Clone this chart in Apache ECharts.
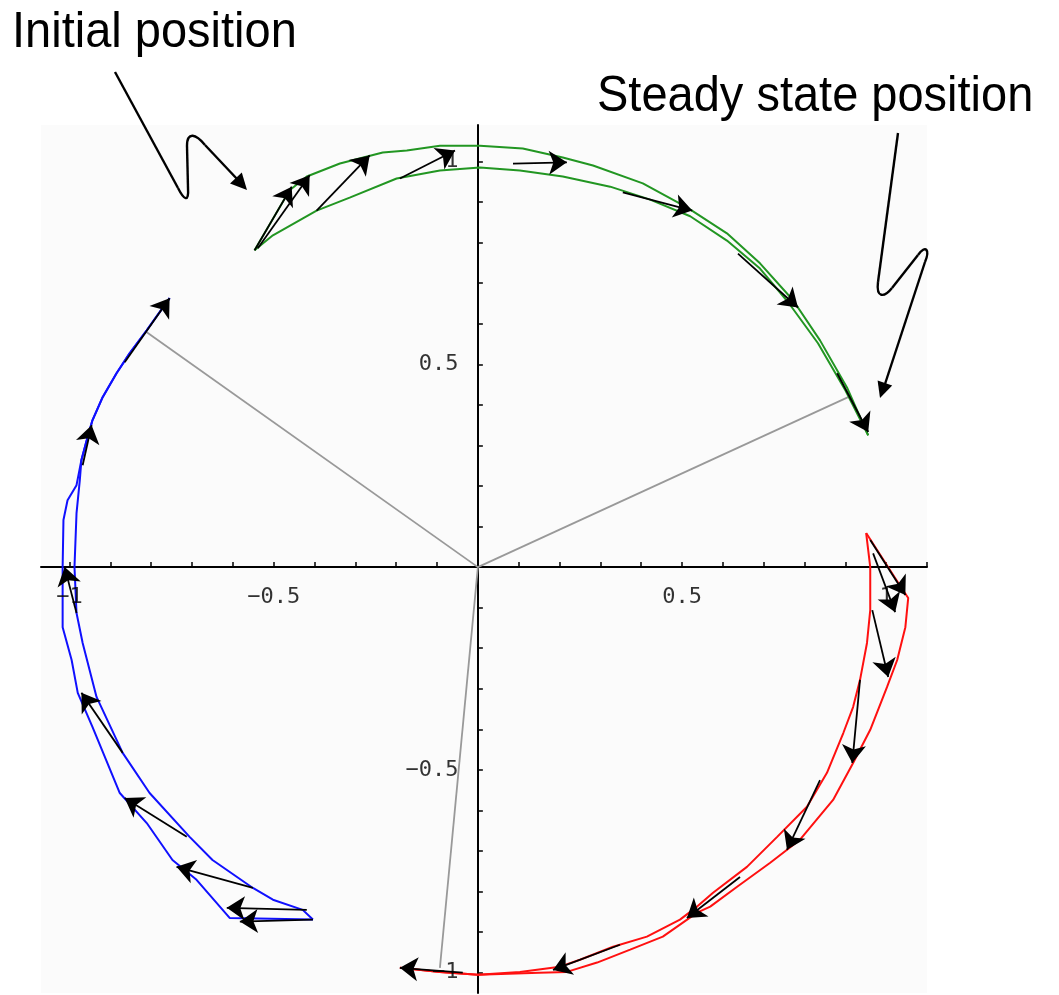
<!DOCTYPE html>
<html>
<head>
<meta charset="utf-8">
<style>
  html, body { margin: 0; padding: 0; background: #ffffff; }
  #chart { width: 1059px; height: 995px; }
</style>
<script src="https://cdn.jsdelivr.net/npm/echarts@6/dist/echarts.min.js"></script>
</head>
<body>
<div id="chart"></div>
<script>
// Trajectories of three unit vectors rotating from their initial to their steady-state angles.
// Each trajectory is drawn as an outer and an inner trace, plus the step vectors between them.

const greenOuter = [
  [-0.547, 0.781], [-0.461, 0.929], [-0.419, 0.963], [-0.338, 0.995], [-0.233, 1.022],
  [-0.174, 1.027], [-0.093, 1.039], [0.005, 1.039], [0.110, 1.032], [0.208, 1.010],
  [0.282, 0.990], [0.404, 0.946], [0.512, 0.887], [0.610, 0.823], [0.691, 0.749],
  [0.772, 0.658], [0.838, 0.559], [0.904, 0.443], [0.956, 0.325]
];
const greenInner = [
  [-0.547, 0.781], [-0.502, 0.818], [-0.395, 0.879], [-0.314, 0.911], [-0.199, 0.958],
  [-0.093, 0.978], [0.005, 0.985], [0.103, 0.978], [0.208, 0.963], [0.324, 0.938],
  [0.422, 0.906], [0.520, 0.865], [0.610, 0.805], [0.691, 0.736], [0.760, 0.653],
  [0.833, 0.552], [0.900, 0.436], [0.956, 0.325]
];

const blueOuter = [
  [-0.755, 0.663], [-0.811, 0.584], [-0.853, 0.527], [-0.885, 0.478], [-0.919, 0.419],
  [-0.944, 0.362], [-0.958, 0.313], [-0.971, 0.264], [-0.983, 0.202], [-1.005, 0.165],
  [-1.015, 0.116], [-1.017, 0.000], [-1.017, -0.148], [-0.995, -0.229], [-0.980, -0.310],
  [-0.944, -0.394], [-0.877, -0.557], [-0.811, -0.631], [-0.748, -0.722], [-0.689, -0.771],
  [-0.608, -0.865], [-0.404, -0.869]
];
const blueInner = [
  [-0.755, 0.663], [-0.811, 0.584], [-0.853, 0.527], [-0.885, 0.478], [-0.919, 0.419],
  [-0.944, 0.362], [-0.958, 0.313], [-0.971, 0.264], [-0.975, 0.214], [-0.983, 0.133],
  [-0.988, 0.000], [-0.983, -0.113], [-0.968, -0.187], [-0.934, -0.320], [-0.870, -0.458],
  [-0.804, -0.557], [-0.706, -0.665], [-0.650, -0.722], [-0.551, -0.791], [-0.502, -0.820],
  [-0.429, -0.845], [-0.404, -0.869]
];

const redOuter = [
  [0.951, 0.084], [1.040, -0.055], [1.054, -0.076], [1.047, -0.148], [1.027, -0.229],
  [1.002, -0.296], [0.961, -0.401], [0.919, -0.483], [0.870, -0.574], [0.789, -0.672],
  [0.716, -0.729], [0.635, -0.788], [0.569, -0.837], [0.537, -0.852], [0.453, -0.911],
  [0.373, -0.943], [0.292, -0.975], [0.218, -0.998], [0.150, -1.000], [0.000, -1.005],
  [-0.093, -0.998], [-0.191, -0.988]
];
const redInner = [
  [0.951, 0.084], [0.961, 0.000], [0.961, -0.106], [0.953, -0.187], [0.936, -0.278],
  [0.919, -0.345], [0.895, -0.409], [0.855, -0.507], [0.806, -0.591], [0.733, -0.665],
  [0.659, -0.739], [0.576, -0.803], [0.537, -0.837], [0.495, -0.869], [0.414, -0.911],
  [0.331, -0.936], [0.250, -0.968], [0.201, -0.985], [0.103, -0.998], [0.000, -1.005],
  [-0.093, -0.998], [-0.191, -0.988]
];

// Step vectors: [fromX, fromY, toX, toY]
const greenSteps = [
  [-0.547, 0.781, -0.456, 0.938],
  [-0.539, 0.786, -0.412, 0.966],
  [-0.395, 0.879, -0.265, 1.015],
  [-0.191, 0.958, -0.056, 1.027],
  [0.086, 0.995, 0.218, 0.998],
  [0.355, 0.924, 0.525, 0.879],
  [0.637, 0.773, 0.784, 0.640],
  [0.880, 0.478, 0.956, 0.333]
];
const blueSteps = [
  [-0.419, -0.845, -0.615, -0.840],
  [-0.404, -0.869, -0.583, -0.874],
  [-0.551, -0.791, -0.738, -0.739],
  [-0.713, -0.665, -0.865, -0.569],
  [-0.870, -0.458, -0.971, -0.310],
  [-0.983, -0.113, -1.012, 0.000],
  [-0.968, 0.251, -0.946, 0.350],
  [-0.865, 0.505, -0.755, 0.663]
];
const redSteps = [
  [0.961, 0.067, 1.047, -0.069],
  [0.968, 0.034, 1.022, -0.111],
  [0.966, -0.106, 1.005, -0.271],
  [0.936, -0.278, 0.917, -0.483],
  [0.838, -0.525, 0.757, -0.697],
  [0.642, -0.764, 0.512, -0.865],
  [0.348, -0.931, 0.184, -0.993],
  [-0.037, -1.000, -0.191, -0.988]
];

// Steady-state vectors, drawn from the origin
const steadyState = [
  [0.907, 0.419],
  [-0.811, 0.579],
  [-0.093, -0.988]
];

const tickLabelValues = [-1, -0.5, 0.5, 1];
const minorTickValues = [-1, -0.9, -0.8, -0.7, -0.6, -0.5, -0.4, -0.3, -0.2, -0.1,
  0.1, 0.2, 0.3, 0.4, 0.5, 0.6, 0.7, 0.8, 0.9, 1, 1.1];

const GREEN = '#229622';
const BLUE = '#1010ff';
const RED = '#ff1010';

const chart = echarts.init(document.getElementById('chart'), null, { renderer: 'canvas' });

function trace(data, color) {
  return {
    type: 'line', data: data, showSymbol: false, symbol: 'none',
    lineStyle: { color: color, width: 2 }, z: 3, silent: true
  };
}
function steps(list) {
  return {
    type: 'lines', coordinateSystem: 'cartesian2d', z: 4, silent: true,
    symbol: ['none', 'arrow'], symbolSize: 18,
    lineStyle: { color: '#000', width: 1.8, opacity: 1, curveness: 0 },
    itemStyle: { color: '#000' },
    data: list.map(s => ({ coords: [[s[0], s[1]], [s[2], s[3]]] }))
  };
}
function fmt(v) {
  return String(v).replace('-', '\u2212');
}

const labelText = { fontFamily: 'DejaVu Sans Mono', fontSize: 22, color: '#000' };

// Tick labels sit next to the axes that cross at the origin
function tickLabels(points, position, distance) {
  return {
    type: 'scatter', z: 5, silent: true,
    symbolSize: 1, itemStyle: { color: 'rgba(0,0,0,0)' },
    label: Object.assign({ show: true, position: position, distance: distance,
      formatter: p => fmt(p.data.v) }, labelText),
    data: points
  };
}

const axisCommon = {
  type: 'value',
  axisLine: { onZero: true, lineStyle: { color: '#000', width: 2 } },
  axisTick: { show: true, inside: true, length: 5, customValues: minorTickValues,
    lineStyle: { color: '#000', width: 1.5 } },
  axisLabel: { show: false },
  splitLine: { show: false }
};

const option = {
  animation: false,
  backgroundColor: '#ffffff',
  grid: {
    left: 41, top: 125, width: 886, height: 868,
    show: true, backgroundColor: '#fbfbfb', borderWidth: 0,
    containLabel: false, outerBoundsMode: 'none'
  },
  xAxis: Object.assign({ min: -1.07, max: 1.1 }, axisCommon),
  yAxis: Object.assign({ min: -1.05, max: 1.09 }, axisCommon),
  series: [
    {
      type: 'lines', coordinateSystem: 'cartesian2d', z: 2, silent: true,
      symbol: ['none', 'none'],
      lineStyle: { color: '#999999', width: 1.8, opacity: 1 },
      data: steadyState.map(p => ({ coords: [[0, 0], p] }))
    },
    trace(greenOuter, GREEN), trace(greenInner, GREEN),
    trace(blueOuter, BLUE), trace(blueInner, BLUE),
    trace(redOuter, RED), trace(redInner, RED),
    steps(greenSteps), steps(blueSteps), steps(redSteps),
    tickLabels(tickLabelValues.map(v => ({ value: [v, 0], v: v })), 'bottom', 19),
    tickLabels(tickLabelValues.map(v => ({ value: [0, v], v: v })), 'left', 19)
  ],
  graphic: [
    {
      type: 'text', x: 12, y: 36, z: 10, scaleY: 1.07, originX: 0, originY: 36,
      style: { text: 'Initial position', font: '47px "Liberation Sans", Arial, sans-serif',
        fill: '#000', verticalAlign: 'middle' }
    },
    {
      type: 'text', x: 597, y: 104, z: 10, scaleY: 1.07, originX: 597, originY: 104,
      style: { text: 'Steady state position', font: '47px "Liberation Sans", Arial, sans-serif',
        fill: '#000', verticalAlign: 'middle' }
    },
    // pointer to the starting point
    { type: 'line', z: 10, shape: { x1: 115, y1: 72, x2: 178, y2: 188 },
      style: { stroke: '#000', lineWidth: 2.4, fill: null } },
    { type: 'bezierCurve', z: 10,
      shape: { x1: 178, y1: 188, cpx1: 184, cpy1: 200, cpx2: 189, cpy2: 203, x2: 188, y2: 188 },
      style: { stroke: '#000', lineWidth: 2.4, fill: null } },
    { type: 'line', z: 10, shape: { x1: 188, y1: 188, x2: 187, y2: 146 },
      style: { stroke: '#000', lineWidth: 2.4, fill: null } },
    { type: 'bezierCurve', z: 10,
      shape: { x1: 187, y1: 146, cpx1: 187, cpy1: 131, cpx2: 196, cpy2: 134, x2: 205, y2: 145 },
      style: { stroke: '#000', lineWidth: 2.4, fill: null } },
    { type: 'line', z: 10, shape: { x1: 205, y1: 145, x2: 238, y2: 180 },
      style: { stroke: '#000', lineWidth: 2.4, fill: null } },
    { type: 'polygon', z: 10, shape: { points: [[247, 190], [230, 183.5], [241.8, 172.5]] },
      style: { fill: '#000' } },
    // pointer to the steady state
    { type: 'line', z: 10, shape: { x1: 898, y1: 133, x2: 878, y2: 282 },
      style: { stroke: '#000', lineWidth: 2.4, fill: null } },
    { type: 'bezierCurve', z: 10,
      shape: { x1: 878, y1: 282, cpx1: 876, cpy1: 298, cpx2: 884, cpy2: 298, x2: 892, y2: 288 },
      style: { stroke: '#000', lineWidth: 2.4, fill: null } },
    { type: 'line', z: 10, shape: { x1: 892, y1: 288, x2: 918, y2: 255 },
      style: { stroke: '#000', lineWidth: 2.4, fill: null } },
    { type: 'bezierCurve', z: 10,
      shape: { x1: 918, y1: 255, cpx1: 926, cpy1: 244, cpx2: 930, cpy2: 250, x2: 925, y2: 262 },
      style: { stroke: '#000', lineWidth: 2.4, fill: null } },
    { type: 'line', z: 10, shape: { x1: 925, y1: 262, x2: 885, y2: 384 },
      style: { stroke: '#000', lineWidth: 2.4, fill: null } },
    { type: 'polygon', z: 10, shape: { points: [[880, 398], [892.2, 385.6], [877.6, 380.6]] },
      style: { fill: '#000' } }
  ]
};

chart.setOption(option);
</script>
</body>
</html>
